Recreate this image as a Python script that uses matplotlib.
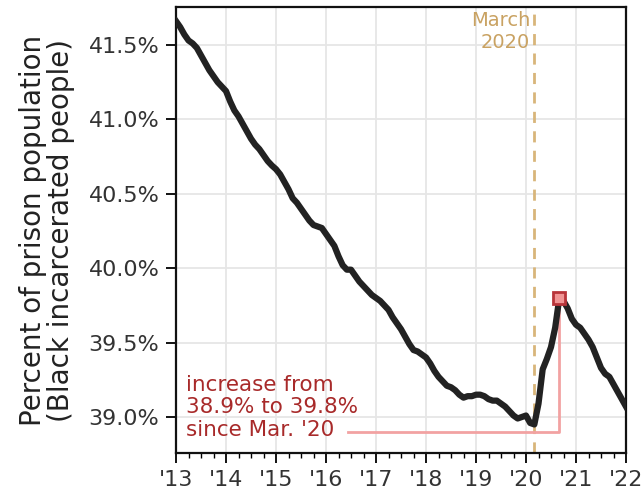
import matplotlib.pyplot as plt
import matplotlib.ticker as mticker
import numpy as np

# monthly share of Black incarcerated people (percent), Jan 2013 .. Jan 2022
years = np.arange(2013, 2022 + 1 / 24, 1 / 12)
share = [
    41.66, 41.62, 41.57, 41.53, 41.51, 41.48, 41.43, 41.38, 41.33, 41.29, 41.25, 41.22,
    41.19, 41.12, 41.06, 41.02, 40.97, 40.92, 40.87, 40.83, 40.80, 40.76, 40.72, 40.69,
    40.665, 40.63, 40.58, 40.53, 40.47, 40.44, 40.40, 40.36, 40.32, 40.29, 40.28, 40.27,
    40.23, 40.19, 40.15, 40.08, 40.02, 39.99, 39.99, 39.95, 39.91, 39.88, 39.85, 39.82,
    39.80, 39.78, 39.75, 39.72, 39.67, 39.63, 39.59, 39.54, 39.49, 39.45, 39.44, 39.42,
    39.40, 39.36, 39.31, 39.27, 39.24, 39.21, 39.20, 39.18, 39.15, 39.13, 39.14, 39.14,
    39.15, 39.15, 39.14, 39.12, 39.11, 39.11, 39.09, 39.07, 39.04, 39.01, 38.99, 39.00,
    39.01, 38.96, 38.95, 39.09, 39.32, 39.39, 39.47, 39.60, 39.80, 39.78, 39.73, 39.66,
    39.62, 39.60, 39.56, 39.52, 39.47, 39.40, 39.33, 39.29, 39.27, 39.22, 39.17, 39.12,
    39.07,
]
march_2020 = 2020 + 2 / 12
peak_date = 2020 + 8 / 12
start_val = 38.9
peak_val = 39.8
year_labels = ["'13", "'14", "'15", "'16", "'17", "'18", "'19", "'20", "'21", "'22"]
y_ticks = [39.0, 39.5, 40.0, 40.5, 41.0, 41.5]

fig = plt.figure(figsize=(6.41, 4.93), dpi=100)
ax = fig.add_axes([0.2746, 0.0811, 0.702, 0.9047])

ax.plot(years, share, color='#222222', lw=4.5, solid_joinstyle='round', zorder=3)

# march 2020 marker
ax.axvline(march_2020, color='#d8b57a', lw=2, ls=(0, (4, 3)), zorder=2)
ax.text(march_2020 - 0.08, 41.725, 'March\n2020', color='#c9a262', fontsize=14,
        ha='right', va='top', linespacing=1.2)

# increase annotation
ax.plot([2016.44, peak_date, peak_date], [start_val, start_val, peak_val],
        color='#f2a2a2', lw=2, zorder=2)
ax.plot([peak_date], [peak_val], marker='s', ms=9, mfc='#f09494', mec='#b8343a',
        mew=2, zorder=4)
ax.text(2013.2, 39.285, "increase from\n38.9% to 39.8%\nsince Mar. '20",
        color='#a82a2a', fontsize=15.5, ha='left', va='top', linespacing=1.18)

ax.set_xlim(2013, 2022)
ax.set_ylim(38.758, 41.755)
ax.set_xticks(np.arange(2013, 2023))
ax.set_xticklabels(year_labels)
ax.xaxis.set_minor_locator(mticker.MultipleLocator(0.25))
ax.set_yticks(y_ticks)
ax.set_yticklabels([f'{v:.1f}%' for v in y_ticks])

ax.grid(True, which='major', color='#e6e6e6', lw=1.3, zorder=0)
ax.set_axisbelow(True)
ax.tick_params(which='major', direction='out', length=7, width=1.3,
               labelsize=16, labelcolor='#333333', pad=5)
ax.tick_params(which='minor', direction='out', length=3.5, width=1.0)
for s in ax.spines.values():
    s.set_linewidth(1.6)
    s.set_color('#111111')

ax.set_ylabel('Percent of prison population\n(Black incarcerated people)',
              fontsize=20, color='#222222', labelpad=10, linespacing=1.0)

fig.savefig('out.png', dpi=100)
